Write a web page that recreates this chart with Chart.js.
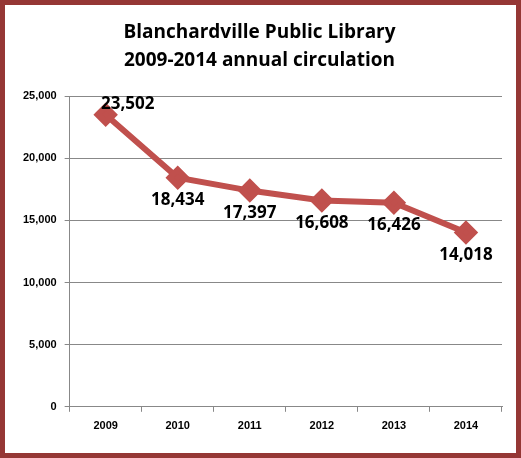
<!DOCTYPE html>
<html><head><script src="https://cdn.jsdelivr.net/npm/chart.js@4"></script>
<style>html,body{margin:0;padding:0;background:#fff}
#wrap{position:absolute;left:0;top:0;width:511px;height:448px;border:5px solid #953735;box-shadow:2px 2px 3px #888;}
</style></head><body>
<div id="wrap"><canvas id="c" width="511" height="448"></canvas></div>
<script>
const years=['2009','2010','2011','2012','2013','2014'];
const circulation=[23502,18434,17397,16608,16426,14018];
const labelPos=['above','below','below','below','below','below'];
const labelsPlugin={id:'lbl',afterDatasetsDraw(ch){const ctx=ch.ctx;const meta=ch.getDatasetMeta(0);ctx.save();ctx.font='bold 17px "Open Sans", Arial';ctx.fillStyle='#000';ctx.textAlign='center';
meta.data.forEach((p,i)=>{const t=circulation[i].toLocaleString('en-US');if(labelPos[i]==='above'){ctx.textBaseline='bottom';ctx.fillText(t,p.x+22,p.y-2);}else{ctx.textBaseline='top';ctx.fillText(t,p.x,p.y+14);}});ctx.restore();}};
new Chart(document.getElementById('c'),{type:'line',data:{labels:years,datasets:[{data:circulation,borderColor:'#C0504D',backgroundColor:'#C0504D',borderWidth:6,pointStyle:'rectRot',pointRadius:8,pointHoverRadius:8,tension:0}]},
options:{responsive:false,animation:false,layout:{padding:{left:10,right:12,top:6,bottom:12}},
plugins:{legend:{display:false},tooltip:{enabled:false},title:{display:true,text:['Blanchardville Public Library','2009-2014 annual circulation'],font:{family:'"Open Sans", Arial',size:19,weight:'bold',lineHeight:1.45},color:'#000',padding:{top:8,bottom:22}}},
scales:{y:{min:0,max:25000,ticks:{stepSize:5000,padding:8,font:{family:'Arial',size:11,weight:'bold'},color:'#000',callback:v=>v.toLocaleString('en-US')},grid:{color:'#888',tickLength:5},border:{color:'#888'}},
x:{offset:true,ticks:{padding:8,font:{family:'Arial',size:11,weight:'bold'},color:'#000'},grid:{offset:true,drawOnChartArea:false,tickLength:5,color:'#888'},border:{color:'#888'}}}},plugins:[labelsPlugin]});
</script></body></html>
